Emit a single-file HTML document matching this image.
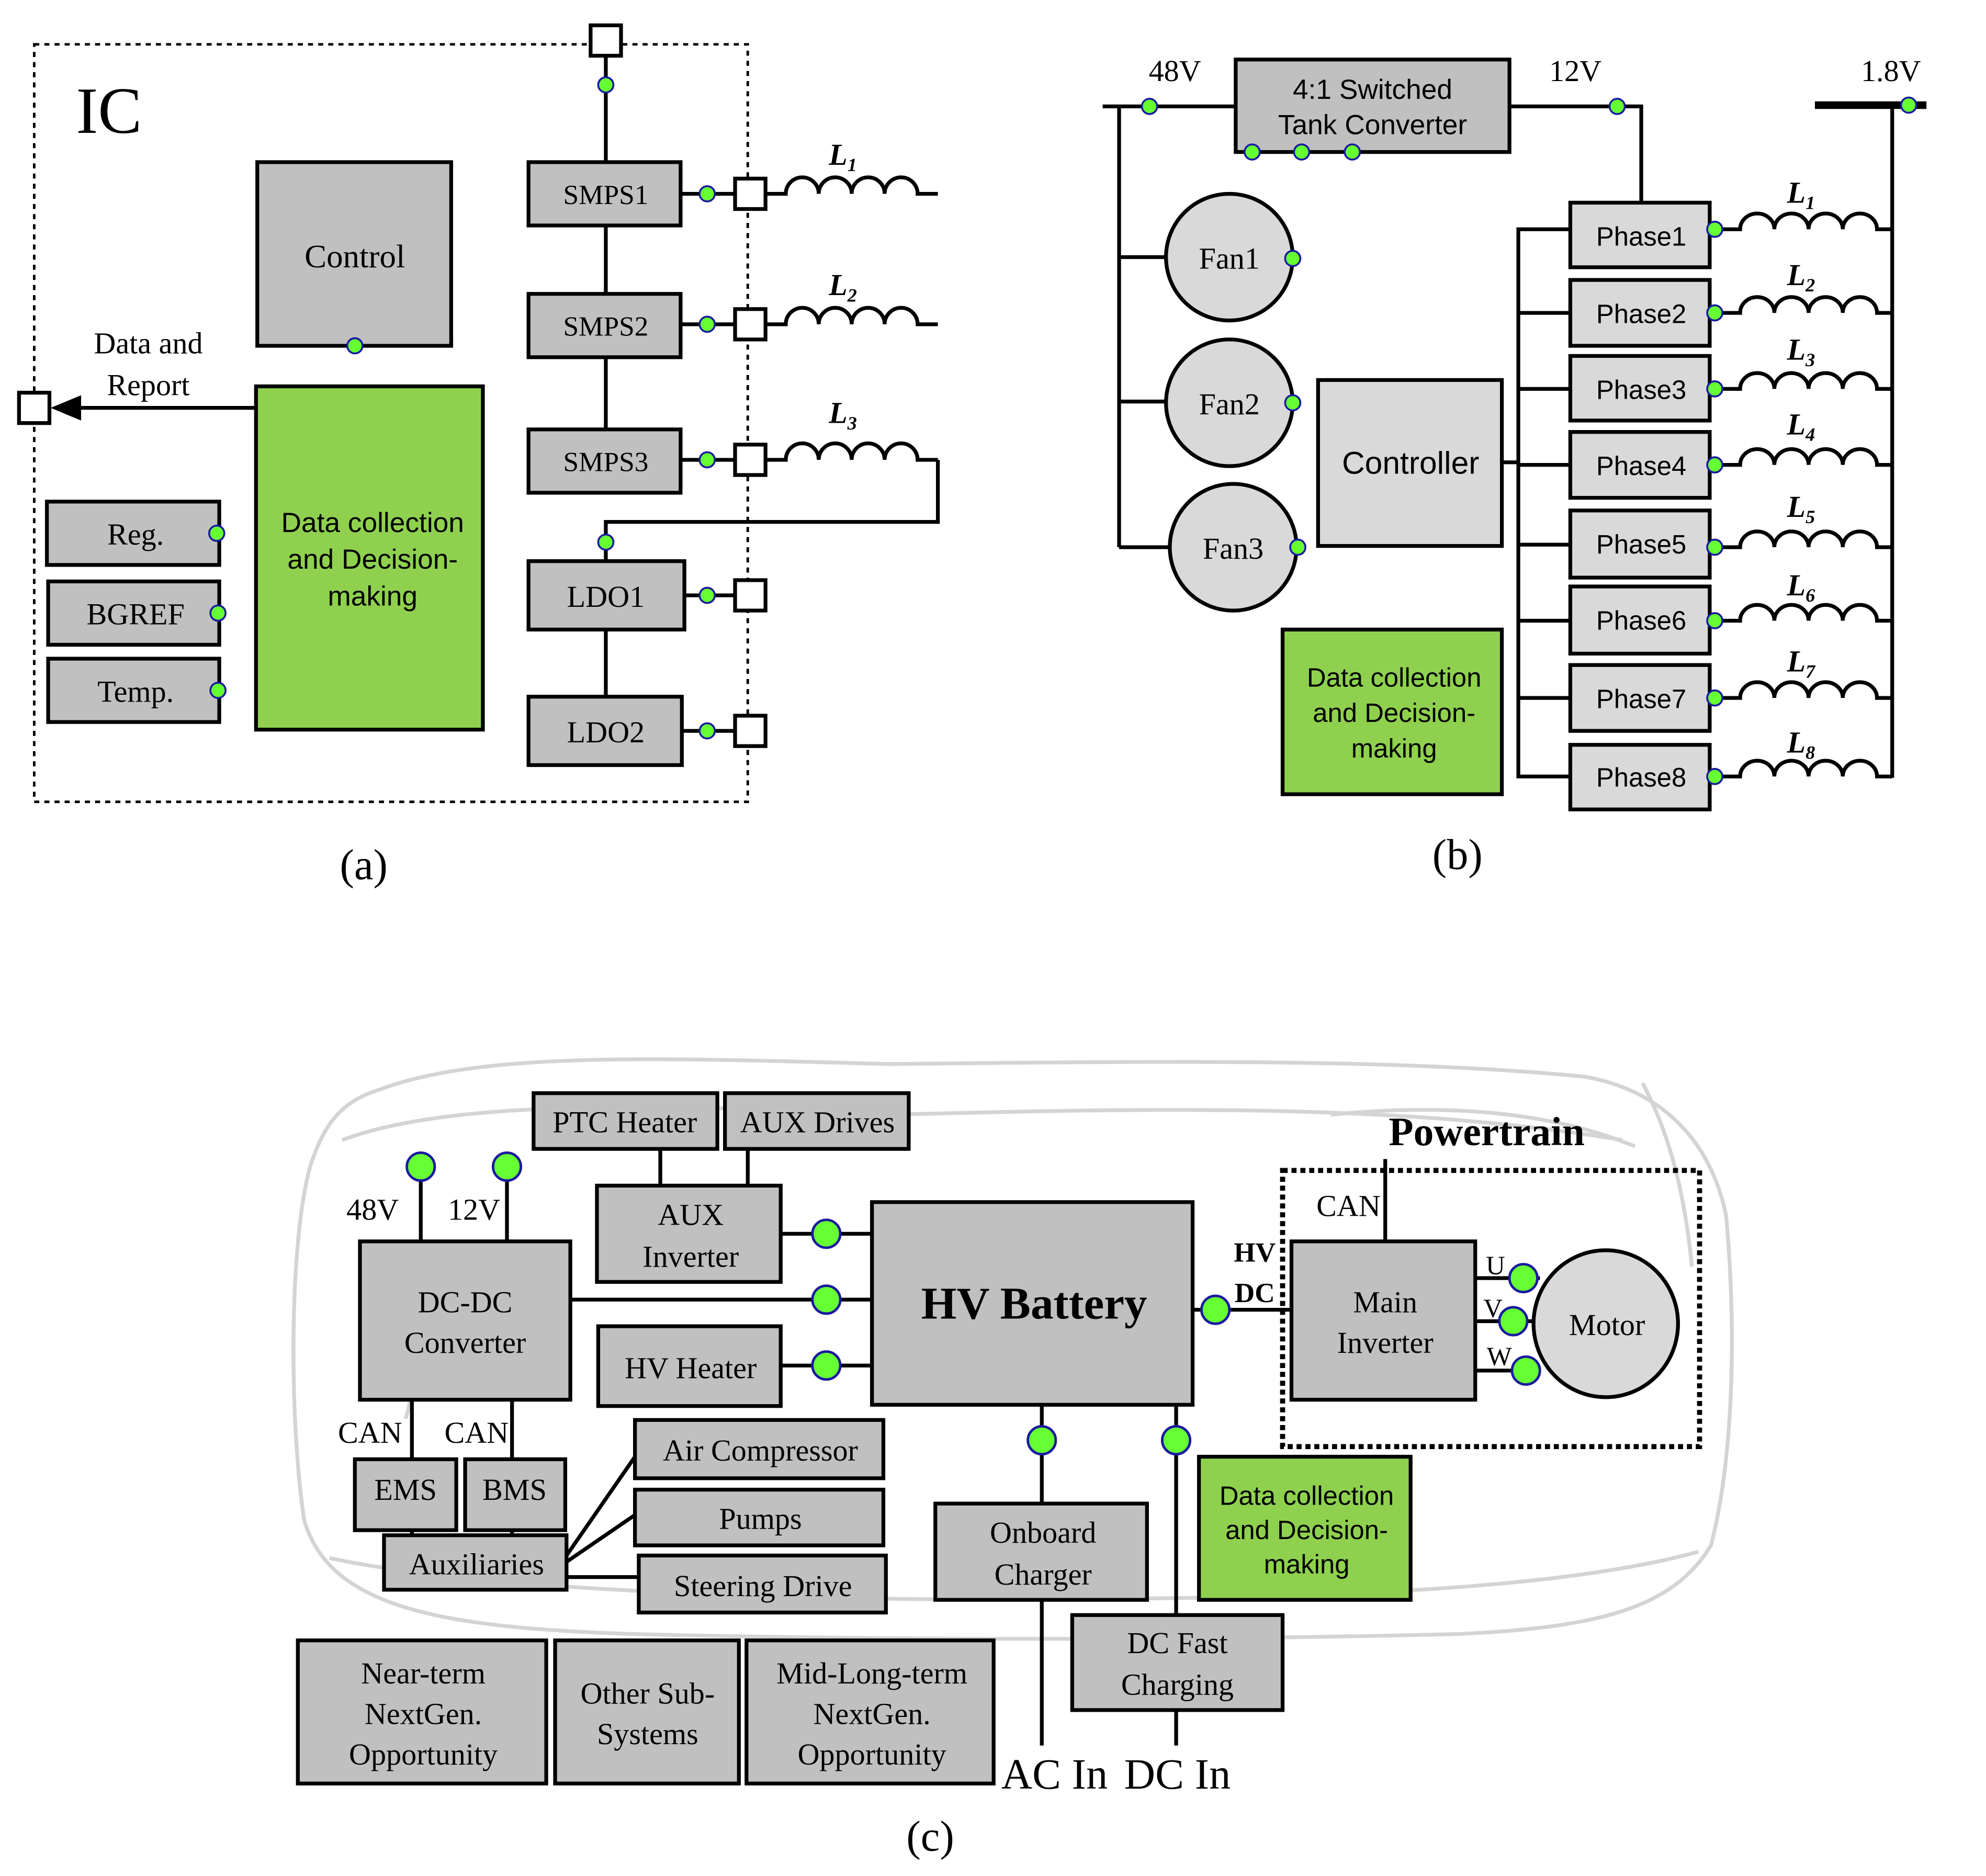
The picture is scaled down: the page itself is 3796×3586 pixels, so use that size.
<!DOCTYPE html>
<html><head><meta charset="utf-8"><style>html,body{margin:0;padding:0;background:#fff}svg{display:block}</style></head>
<body>
<svg width="3796" height="3586" viewBox="0 0 1567 1481" preserveAspectRatio="none" xmlns="http://www.w3.org/2000/svg">
<defs>
<g id="ind"><path d="M0,0 h16 a13,13 0 0 1 26,0 a13,13 0 0 1 26,0 a13,13 0 0 1 26,0 a13,13 0 0 1 26,0 h16" fill="none" stroke="#000" stroke-width="3"/></g>
<g id="ind2"><path d="M0,0 h20 a13,12 0 0 1 27,0 a13,12 0 0 1 27,0 a13,12 0 0 1 27,0 a13,12 0 0 1 27,0 h12" fill="none" stroke="#000" stroke-width="3"/></g>
</defs>
<style>
.b{fill:#c0c0c0;stroke:#000;stroke-width:3}
.g{fill:#8fd14f;stroke:#000;stroke-width:3}
.w{fill:#fff;stroke:#000;stroke-width:3}
.l{stroke:#000;stroke-width:3;fill:none}
.d{fill:#66ff33;stroke:#1a1aa0;stroke-width:1.5}
.D{fill:#66ff33;stroke:#1a1aa0;stroke-width:2}
.s{font-family:"Liberation Serif",serif;fill:#000}
.a{font-family:"Liberation Sans",sans-serif;fill:#000}
.car{fill:none;stroke:#d4d4d4;stroke-width:3}
</style>

<!-- ===== Panel (a) ===== -->
<rect x="27" y="35" width="563" height="598" fill="none" stroke="#000" stroke-width="2" stroke-dasharray="4,4"/>
<text x="60" y="105" class="s" font-size="52">IC</text>
<line x1="478" y1="44" x2="478" y2="128" class="l"/>
<rect x="466" y="20" width="24" height="24" class="w"/>
<circle cx="478" cy="67" r="6" class="d"/>
<rect x="203" y="128" width="153" height="145" class="b"/>
<text x="280" y="211" class="s" font-size="26" text-anchor="middle">Control</text>
<circle cx="280" cy="273" r="6" class="d"/>
<rect x="202" y="305" width="179" height="271" class="g"/>
<text class="a" font-size="22" text-anchor="middle"><tspan x="294" y="420">Data collection</tspan><tspan x="294" y="449">and Decision-</tspan><tspan x="294" y="478">making</tspan></text>
<line x1="202" y1="322" x2="60" y2="322" class="l"/>
<path d="M40,322 L64,312 L64,332 Z" fill="#000"/>
<rect x="15" y="310" width="24" height="24" class="w"/>
<text class="s" font-size="24" text-anchor="middle"><tspan x="117" y="279">Data and</tspan><tspan x="117" y="312">Report</tspan></text>
<rect x="37" y="396" width="136" height="50" class="b"/><text x="107" y="430" class="s" font-size="24" text-anchor="middle">Reg.</text><circle cx="171" cy="421" r="6" class="d"/>
<rect x="38" y="459" width="135" height="50" class="b"/><text x="107" y="493" class="s" font-size="24" text-anchor="middle">BGREF</text><circle cx="172" cy="484" r="6" class="d"/>
<rect x="38" y="520" width="135" height="50" class="b"/><text x="107" y="554" class="s" font-size="24" text-anchor="middle">Temp.</text><circle cx="172" cy="545" r="6" class="d"/>

<line x1="478" y1="178" x2="478" y2="232" class="l"/>
<line x1="478" y1="282" x2="478" y2="339" class="l"/>
<line x1="478" y1="497" x2="478" y2="550" class="l"/>
<rect x="417" y="128" width="120" height="50" class="b"/><text x="478" y="161" class="s" font-size="22" text-anchor="middle">SMPS1</text>
<rect x="417" y="232" width="120" height="50" class="b"/><text x="478" y="265" class="s" font-size="22" text-anchor="middle">SMPS2</text>
<rect x="417" y="339" width="120" height="50" class="b"/><text x="478" y="372" class="s" font-size="22" text-anchor="middle">SMPS3</text>
<rect x="417" y="443" width="123" height="54" class="b"/><text x="478" y="479" class="s" font-size="24" text-anchor="middle">LDO1</text>
<rect x="417" y="550" width="121" height="54" class="b"/><text x="478" y="586" class="s" font-size="24" text-anchor="middle">LDO2</text>
<g>
<line x1="537" y1="153" x2="580" y2="153" class="l"/><circle cx="558" cy="153" r="6" class="d"/><rect x="580" y="141" width="24" height="24" class="w"/>
<line x1="537" y1="256" x2="580" y2="256" class="l"/><circle cx="558" cy="256" r="6" class="d"/><rect x="580" y="244" width="24" height="24" class="w"/>
<line x1="537" y1="363" x2="580" y2="363" class="l"/><circle cx="558" cy="363" r="6" class="d"/><rect x="580" y="351" width="24" height="24" class="w"/>
<line x1="540" y1="470" x2="580" y2="470" class="l"/><circle cx="558" cy="470" r="6" class="d"/><rect x="580" y="458" width="24" height="24" class="w"/>
<line x1="538" y1="577" x2="580" y2="577" class="l"/><circle cx="558" cy="577" r="6" class="d"/><rect x="580" y="565" width="24" height="24" class="w"/>
</g>
<use href="#ind" x="604" y="153"/>
<use href="#ind" x="604" y="256"/>
<use href="#ind" x="604" y="363"/>
<path d="M740,363 V412 H478 V443" class="l"/>
<circle cx="478" cy="428" r="6" class="d"/>
<text x="654" y="130" class="s" font-size="24" font-style="italic" font-weight="bold">L<tspan font-size="15" dy="5">1</tspan></text>
<text x="654" y="233" class="s" font-size="24" font-style="italic" font-weight="bold">L<tspan font-size="15" dy="5">2</tspan></text>
<text x="654" y="334" class="s" font-size="24" font-style="italic" font-weight="bold">L<tspan font-size="15" dy="5">3</tspan></text>
<text x="287" y="694" class="s" font-size="34" text-anchor="middle">(a)</text>

<!-- ===== Panel (b) ===== -->
<text x="927" y="64" class="s" font-size="24" text-anchor="middle">48V</text>
<text x="1243" y="64" class="s" font-size="24" text-anchor="middle">12V</text>
<text x="1492" y="64" class="s" font-size="24" text-anchor="middle">1.8V</text>
<line x1="870" y1="84" x2="975" y2="84" class="l"/>
<rect x="975" y="47" width="216" height="73" class="b"/>
<text class="a" font-size="22" text-anchor="middle"><tspan x="1083" y="78">4:1 Switched</tspan><tspan x="1083" y="106">Tank Converter</tspan></text>
<circle cx="907" cy="84" r="6" class="d"/>
<circle cx="988" cy="120" r="6" class="d"/><circle cx="1027" cy="120" r="6" class="d"/><circle cx="1067" cy="120" r="6" class="d"/>
<path d="M1191,84 H1295 V160" class="l"/>
<circle cx="1276" cy="84" r="6" class="d"/>
<line x1="1432" y1="83" x2="1520" y2="83" stroke="#000" stroke-width="6"/>
<line x1="1493" y1="83" x2="1493" y2="614" class="l"/>
<circle cx="1506" cy="83" r="6" class="d"/>
<path d="M883,84 V432 M883,203 H920 M883,317 H920 M883,432 H923" class="l"/>
<circle cx="970" cy="203" r="50" fill="#d9d9d9" stroke="#000" stroke-width="3"/>
<circle cx="970" cy="318" r="50" fill="#d9d9d9" stroke="#000" stroke-width="3"/>
<circle cx="973" cy="432" r="50" fill="#d9d9d9" stroke="#000" stroke-width="3"/>
<text x="970" y="212" class="s" font-size="24" text-anchor="middle">Fan1</text>
<text x="970" y="327" class="s" font-size="24" text-anchor="middle">Fan2</text>
<text x="973" y="441" class="s" font-size="24" text-anchor="middle">Fan3</text>
<circle cx="1020" cy="204" r="6" class="d"/><circle cx="1020" cy="318" r="6" class="d"/><circle cx="1024" cy="432" r="6" class="d"/>
<rect x="1040" y="300" width="145" height="131" fill="#d9d9d9" stroke="#000" stroke-width="3"/>
<text x="1113" y="374" class="a" font-size="25" text-anchor="middle">Controller</text>
<line x1="1185" y1="365" x2="1198" y2="365" class="l"/>
<path d="M1239,181 H1198 V613 H1239 M1198,247 H1239 M1198,307 H1239 M1198,367 H1239 M1198,430 H1239 M1198,490 H1239 M1198,551 H1239" class="l"/>
<g class="a" font-size="21" text-anchor="middle">
<rect x="1239" y="160" width="110" height="51" fill="#d9d9d9" stroke="#000" stroke-width="3"/><text x="1295" y="194">Phase1</text>
<rect x="1239" y="221" width="110" height="52" fill="#d9d9d9" stroke="#000" stroke-width="3"/><text x="1295" y="255">Phase2</text>
<rect x="1239" y="281" width="110" height="51" fill="#d9d9d9" stroke="#000" stroke-width="3"/><text x="1295" y="315">Phase3</text>
<rect x="1239" y="341" width="110" height="52" fill="#d9d9d9" stroke="#000" stroke-width="3"/><text x="1295" y="375">Phase4</text>
<rect x="1239" y="403" width="110" height="53" fill="#d9d9d9" stroke="#000" stroke-width="3"/><text x="1295" y="437">Phase5</text>
<rect x="1239" y="463" width="110" height="53" fill="#d9d9d9" stroke="#000" stroke-width="3"/><text x="1295" y="497">Phase6</text>
<rect x="1239" y="525" width="110" height="52" fill="#d9d9d9" stroke="#000" stroke-width="3"/><text x="1295" y="559">Phase7</text>
<rect x="1239" y="588" width="110" height="51" fill="#d9d9d9" stroke="#000" stroke-width="3"/><text x="1295" y="621">Phase8</text>
</g>
<g>
<use href="#ind2" x="1353" y="181"/><use href="#ind2" x="1353" y="247"/><use href="#ind2" x="1353" y="307"/><use href="#ind2" x="1353" y="367"/>
<use href="#ind2" x="1353" y="432"/><use href="#ind2" x="1353" y="490"/><use href="#ind2" x="1353" y="551"/><use href="#ind2" x="1353" y="613"/>
</g>
<g>
<circle cx="1353" cy="181" r="6" class="d"/><circle cx="1353" cy="247" r="6" class="d"/><circle cx="1353" cy="307" r="6" class="d"/><circle cx="1353" cy="367" r="6" class="d"/>
<circle cx="1353" cy="432" r="6" class="d"/><circle cx="1353" cy="490" r="6" class="d"/><circle cx="1353" cy="551" r="6" class="d"/><circle cx="1353" cy="613" r="6" class="d"/>
</g>
<g class="s" font-size="24" font-style="italic" font-weight="bold">
<text x="1410" y="160">L<tspan font-size="15" dy="5">1</tspan></text>
<text x="1410" y="225">L<tspan font-size="15" dy="5">2</tspan></text>
<text x="1410" y="284">L<tspan font-size="15" dy="5">3</tspan></text>
<text x="1410" y="343">L<tspan font-size="15" dy="5">4</tspan></text>
<text x="1410" y="408">L<tspan font-size="15" dy="5">5</tspan></text>
<text x="1410" y="470">L<tspan font-size="15" dy="5">6</tspan></text>
<text x="1410" y="530">L<tspan font-size="15" dy="5">7</tspan></text>
<text x="1410" y="594">L<tspan font-size="15" dy="5">8</tspan></text>
</g>
<rect x="1012" y="497" width="173" height="130" class="g"/>
<text class="a" font-size="21" text-anchor="middle"><tspan x="1100" y="542">Data collection</tspan><tspan x="1100" y="570">and Decision-</tspan><tspan x="1100" y="598">making</tspan></text>
<text x="1150" y="686" class="s" font-size="34" text-anchor="middle">(b)</text>

<!-- ===== Panel (c) ===== -->
<g class="car">
<path d="M300,860 C380,830 520,835 700,840 C900,838 1100,835 1250,850 C1310,860 1350,900 1362,960 C1370,1050 1368,1150 1350,1220 C1320,1270 1260,1285 1150,1290 C950,1295 700,1295 500,1290 C350,1285 260,1270 240,1200 C228,1120 228,980 245,920 C258,880 275,868 300,860 Z"/>
<path d="M270,900 C350,870 500,870 700,880 C900,875 1100,870 1280,900"/>
<path d="M260,1230 C400,1260 700,1265 900,1262 C1100,1260 1250,1250 1340,1225"/>
<path d="M1050,880 C1150,870 1230,880 1290,905"/>
<path d="M1296,855 C1320,900 1330,950 1335,1000"/>
<path d="M300,1040 C320,1060 330,1090 320,1120"/>
</g>
<rect x="421" y="863" width="145" height="44" class="b"/><text x="493" y="894" class="s" font-size="24" text-anchor="middle">PTC Heater</text>
<rect x="572" y="863" width="145" height="44" class="b"/><text x="645" y="894" class="s" font-size="24" text-anchor="middle">AUX Drives</text>
<path d="M521,907 V936 M590,907 V936" class="l"/>
<rect x="471" y="936" width="145" height="76" class="b"/>
<text class="s" font-size="24" text-anchor="middle"><tspan x="545" y="967">AUX</tspan><tspan x="545" y="1000">Inverter</tspan></text>
<rect x="688" y="949" width="253" height="160" class="b"/>
<text x="816" y="1041" class="s" font-size="36" font-weight="bold" text-anchor="middle">HV Battery</text>
<path d="M616,974 H688 M450,1026 H688 M616,1078 H688" class="l"/>
<rect x="284" y="980" width="166" height="125" class="b"/>
<text class="s" font-size="24" text-anchor="middle"><tspan x="367" y="1036">DC-DC</tspan><tspan x="367" y="1068">Converter</tspan></text>
<rect x="472" y="1047" width="144" height="63" class="b"/><text x="545" y="1088" class="s" font-size="24" text-anchor="middle">HV Heater</text>
<circle cx="652" cy="974" r="11" class="D"/><circle cx="652" cy="1026" r="11" class="D"/><circle cx="652" cy="1078" r="11" class="D"/>
<path d="M332,921 V980 M400,921 V980" class="l"/>
<circle cx="332" cy="921" r="11" class="D"/><circle cx="400" cy="921" r="11" class="D"/>
<text x="294" y="963" class="s" font-size="24" text-anchor="middle">48V</text>
<text x="374" y="963" class="s" font-size="24" text-anchor="middle">12V</text>
<path d="M325,1105 V1152 M404,1105 V1152 M325,1208 V1212 M404,1208 V1212" class="l"/>
<text x="292" y="1139" class="s" font-size="24" text-anchor="middle">CAN</text>
<text x="376" y="1139" class="s" font-size="24" text-anchor="middle">CAN</text>
<rect x="280" y="1152" width="80" height="56" class="b"/><text x="320" y="1184" class="s" font-size="24" text-anchor="middle">EMS</text>
<rect x="367" y="1152" width="79" height="56" class="b"/><text x="406" y="1184" class="s" font-size="24" text-anchor="middle">BMS</text>
<rect x="303" y="1212" width="144" height="43" class="b"/><text x="376" y="1243" class="s" font-size="24" text-anchor="middle">Auxiliaries</text>
<path d="M447,1228 L501,1150 M447,1233 L501,1196 M447,1245 H504" class="l"/>
<rect x="501" y="1121" width="196" height="46" class="b"/><text x="600" y="1153" class="s" font-size="24" text-anchor="middle">Air Compressor</text>
<rect x="501" y="1176" width="196" height="44" class="b"/><text x="600" y="1207" class="s" font-size="24" text-anchor="middle">Pumps</text>
<rect x="504" y="1228" width="195" height="45" class="b"/><text x="602" y="1260" class="s" font-size="24" text-anchor="middle">Steering Drive</text>
<path d="M822,1109 V1187 M822,1263 V1378 M928,1109 V1275 M928,1350 V1378" class="l"/>
<circle cx="822" cy="1137" r="11" class="D"/><circle cx="928" cy="1137" r="11" class="D"/>
<rect x="738" y="1187" width="167" height="76" class="b"/>
<text class="s" font-size="24" text-anchor="middle"><tspan x="823" y="1218">Onboard</tspan><tspan x="823" y="1251">Charger</tspan></text>
<rect x="846" y="1275" width="166" height="75" class="b"/>
<text class="s" font-size="24" text-anchor="middle"><tspan x="929" y="1305">DC Fast</tspan><tspan x="929" y="1338">Charging</tspan></text>
<text x="832" y="1412" class="s" font-size="34" text-anchor="middle">AC In</text>
<text x="929" y="1412" class="s" font-size="34" text-anchor="middle">DC In</text>
<rect x="946" y="1150" width="167" height="113" class="g"/>
<text class="a" font-size="21" text-anchor="middle"><tspan x="1031" y="1188">Data collection</tspan><tspan x="1031" y="1215">and Decision-</tspan><tspan x="1031" y="1242">making</tspan></text>
<text x="1173" y="904" class="s" font-size="32" font-weight="bold" text-anchor="middle">Powertrain</text>
<rect x="1012" y="924" width="329" height="218" fill="none" stroke="#000" stroke-width="4" stroke-dasharray="4,3"/>
<line x1="1093" y1="915" x2="1093" y2="980" class="l"/>
<text x="1064" y="960" class="s" font-size="24" text-anchor="middle">CAN</text>
<line x1="941" y1="1034" x2="1019" y2="1034" class="l"/>
<circle cx="959" cy="1034" r="11" class="D"/>
<text x="990" y="996" class="s" font-size="22" font-weight="bold" text-anchor="middle">HV</text>
<text x="990" y="1028" class="s" font-size="22" font-weight="bold" text-anchor="middle">DC</text>
<rect x="1019" y="980" width="145" height="125" class="b"/>
<text class="s" font-size="24" text-anchor="middle"><tspan x="1093" y="1036">Main</tspan><tspan x="1093" y="1068">Inverter</tspan></text>
<path d="M1164,1009 H1215 M1164,1043 H1212 M1164,1082 H1215" class="l"/>
<ellipse cx="1267" cy="1045" rx="57" ry="58" fill="#d9d9d9" stroke="#000" stroke-width="3"/>
<text x="1268" y="1054" class="s" font-size="24" text-anchor="middle">Motor</text>
<circle cx="1202" cy="1009" r="11" class="D"/><circle cx="1194" cy="1043" r="11" class="D"/><circle cx="1204" cy="1082" r="11" class="D"/>
<text x="1180" y="1006" class="s" font-size="21" text-anchor="middle">U</text>
<text x="1178" y="1040" class="s" font-size="21" text-anchor="middle">V</text>
<text x="1183" y="1078" class="s" font-size="21" text-anchor="middle">W</text>
<rect x="235" y="1295" width="196" height="113" class="b"/>
<text class="s" font-size="24" text-anchor="middle"><tspan x="334" y="1329">Near-term</tspan><tspan x="334" y="1361">NextGen.</tspan><tspan x="334" y="1393">Opportunity</tspan></text>
<rect x="438" y="1295" width="145" height="113" class="b"/>
<text class="s" font-size="24" text-anchor="middle"><tspan x="511" y="1345">Other Sub-</tspan><tspan x="511" y="1377">Systems</tspan></text>
<rect x="589" y="1295" width="195" height="113" class="b"/>
<text class="s" font-size="24" text-anchor="middle"><tspan x="688" y="1329">Mid-Long-term</tspan><tspan x="688" y="1361">NextGen.</tspan><tspan x="688" y="1393">Opportunity</tspan></text>
<text x="734" y="1461" class="s" font-size="34" text-anchor="middle">(c)</text>
</svg>
</body></html>
